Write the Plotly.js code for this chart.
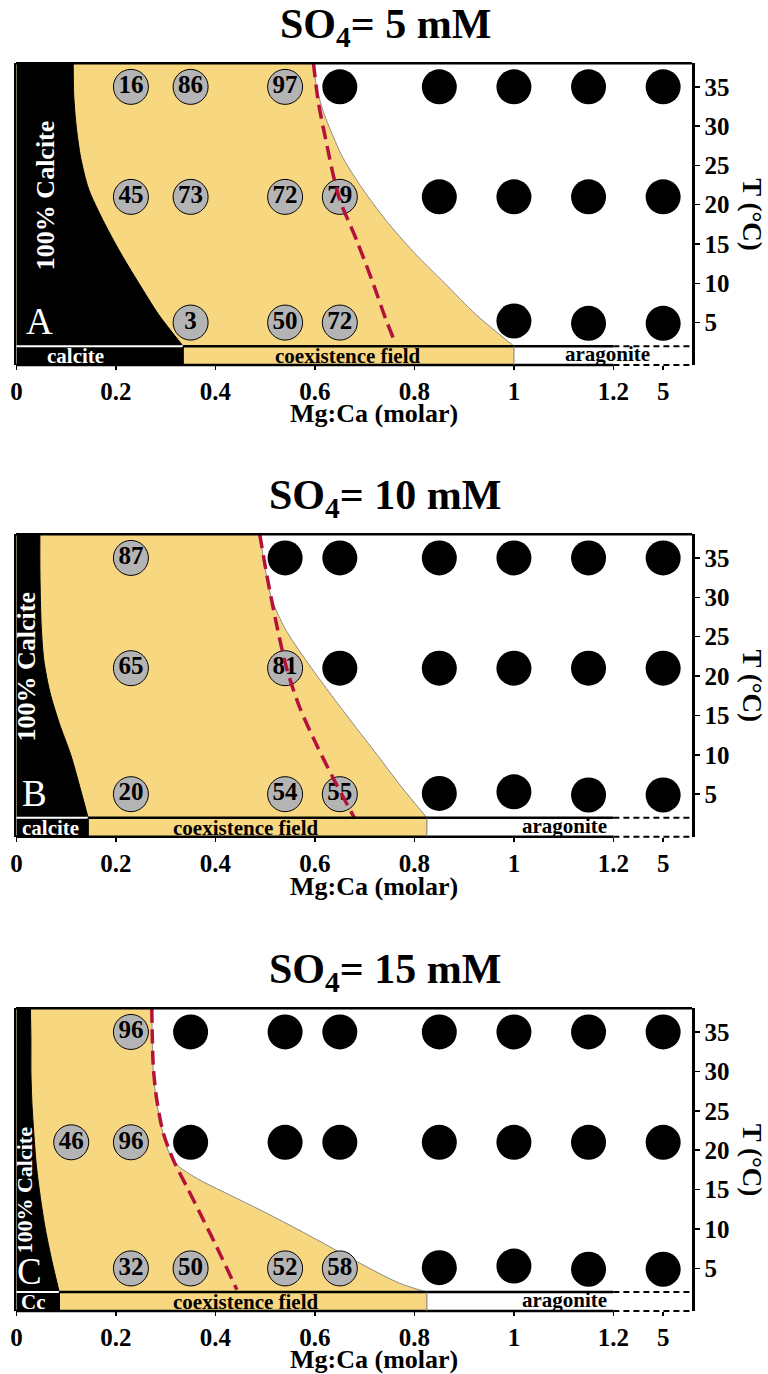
<!DOCTYPE html>
<html><head><meta charset="utf-8">
<script src="https://cdn.plot.ly/plotly-3.0.1.min.js"></script>
<style>html,body{margin:0;padding:0;background:#fff;}#chart{width:768px;height:1374px;}</style>
</head><body><div id="chart"></div>
<script>
// ---------------- DATA ----------------
const so4Values = ['5', '10', '15'];            // mM, panel titles
const panelLetters = ['A', 'B', 'C'];
const calciteBandLabels = ['calcite', 'calcite', 'Cc'];
const xTickVals = [0, 0.2, 0.4, 0.6, 0.8, 1, 1.2, 5];
const xTickText = ['0', '0.2', '0.4', '0.6', '0.8', '1', '1.2', '5'];
const yTickVals = [5, 10, 15, 20, 25, 30, 35];

// Panel A (SO4 = 5 mM): % aragonite in grey circles; black = 100% aragonite
const grayA_x = [0.23, 0.35, 0.54, 0.23, 0.35, 0.54, 0.65, 0.35, 0.54, 0.65];
const grayA_T = [35, 35, 35, 21, 21, 21, 21, 5, 5, 5];
const grayA_lab = [16, 86, 97, 45, 73, 72, 79, 3, 50, 72];
const blackA_x = [0.65, 0.85, 1.0, 1.15, 5, 0.85, 1.0, 1.15, 5, 1.0, 1.15, 5];
const blackA_T = [35, 35, 35, 35, 35, 21, 21, 21, 21, 5.2, 4.9, 4.9];

// Panel B (SO4 = 10 mM)
const grayB_x = [0.23, 0.23, 0.54, 0.23, 0.54, 0.65];
const grayB_T = [35, 21, 21, 5, 5, 5];
const grayB_lab = [87, 65, 81, 20, 54, 55];
const blackB_x = [0.54, 0.65, 0.85, 1.0, 1.15, 5, 0.65, 0.85, 1.0, 1.15, 5, 0.85, 1.0, 1.15, 5];
const blackB_T = [35, 35, 35, 35, 35, 35, 21, 21, 21, 21, 21, 5.1, 5.3, 4.9, 4.9];

// Panel C (SO4 = 15 mM)
const grayC_x = [0.23, 0.11, 0.23, 0.23, 0.35, 0.54, 0.65];
const grayC_T = [35, 21, 21, 5, 5, 5, 5];
const grayC_lab = [96, 46, 96, 32, 50, 52, 58];
const blackC_x = [0.35, 0.54, 0.65, 0.85, 1.0, 1.15, 5, 0.35, 0.54, 0.65, 0.85, 1.0, 1.15, 5, 0.85, 1.0, 1.15, 5];
const blackC_T = [35, 35, 35, 35, 35, 35, 35, 21, 21, 21, 21, 21, 21, 21, 5.1, 5.3, 4.9, 4.9];

// Field boundaries (Mg:Ca at temperature T)
const calciteT = [38, 34, 30, 26, 22, 18, 14, 10, 6, 2];
const calciteA = [0.114, 0.115, 0.120, 0.129, 0.145, 0.174, 0.208, 0.246, 0.286, 0.335];
const calciteB = [0.047, 0.047, 0.048, 0.050, 0.055, 0.067, 0.086, 0.109, 0.127, 0.144];
const calciteC = [0.028, 0.029, 0.029, 0.031, 0.035, 0.040, 0.048, 0.058, 0.071, 0.086];

const aragT_A = [38, 35, 32, 30, 26, 22, 18, 14, 10, 6, 2];
const aragA = [0.597, 0.603, 0.616, 0.628, 0.656, 0.696, 0.743, 0.798, 0.861, 0.924, 1.0];
const aragT_B = [38, 34, 30, 26, 22, 18, 14, 10, 6, 2];
const aragB = [0.489, 0.499, 0.512, 0.540, 0.582, 0.628, 0.676, 0.725, 0.773, 0.825];
const aragT_C = [38, 30, 26, 22, 19.2, 17.9, 16.2, 14.1, 12, 9.8, 7.5, 5.2, 3.1, 2];
const aragC = [0.272, 0.275, 0.282, 0.295, 0.310, 0.327, 0.369, 0.436, 0.503, 0.570, 0.637, 0.704, 0.771, 0.825];

// Red dashed boundary
const redA_T = [38, 33, 28.5, 21, 15.3, 9.8, 5.5, 2.8];
const redA_x = [0.597, 0.607, 0.621, 0.648, 0.685, 0.718, 0.742, 0.759];
const redB_T = [38, 32.9, 26.5, 21, 15.9, 11.3, 7, 1.9];
const redB_x = [0.489, 0.503, 0.523, 0.543, 0.570, 0.603, 0.637, 0.680];
const redC_T = [38, 30.6, 26.4, 22.2, 18.8, 15.4, 12, 7.8, 2.3];
const redC_x = [0.272, 0.275, 0.282, 0.295, 0.315, 0.342, 0.369, 0.402, 0.443];

const coexLabelX = [0.667, 0.461, 0.461];
const calciteLabelX = [0.119, 0.069, 0.035];
const bigCalciteLabel = [{x: 0.057, T: 21.2, size: 26}, {x: 0.021, T: 21.2, size: 26}, {x: 0.017, T: 15.0, size: 22}];
const letterPos = [{x: 0.047, T: 5.1}, {x: 0.037, T: 5.1}, {x: 0.026, T: 4.6}];

// ---------------- LAYOUT CONSTANTS ----------------
const W = 768, H = 1374;
const FONT = 'Liberation Serif, Times New Roman, serif';
const YELLOW = '#f7d77f';
const GREY = '#b4b4b4';
const RED = '#b3123c';
const BREAK_VALUE = 5, BREAK_POS = 1.3, AXIS_BREAK = 1.2;
const X_RANGE = [-0.001, 1.358];
const Y_RANGE = [-0.4, 38];
const BAND_TOP = 2;
const panelTop = [63.3, 534.3, 1008.3];
const panelBot = [365, 836.7, 1311];
const titleY = [27, 498, 972];
const xTitleY = [414, 886, 1359];

const mapX = v => (v === BREAK_VALUE ? BREAK_POS : v);
const px = v => v / W;
const py = v => 1 - v / H;

const panels = [
  {gx: grayA_x, gT: grayA_T, gl: grayA_lab, bx: blackA_x, bT: blackA_T, cx: calciteA, ax: aragA, aT: aragT_A, rx: redA_x, rT: redA_T},
  {gx: grayB_x, gT: grayB_T, gl: grayB_lab, bx: blackB_x, bT: blackB_T, cx: calciteB, ax: aragB, aT: aragT_B, rx: redB_x, rT: redB_T},
  {gx: grayC_x, gT: grayC_T, gl: grayC_lab, bx: blackC_x, bT: blackC_T, cx: calciteC, ax: aragC, aT: aragT_C, rx: redC_x, rT: redC_T}
];

const traces = [], shapes = [], annotations = [];
const layout = {
  width: W, height: H, autosize: false,
  margin: {l: 0, r: 0, t: 0, b: 0, pad: 0},
  paper_bgcolor: '#fff', plot_bgcolor: '#fff',
  showlegend: false, barmode: 'overlay',
  font: {family: FONT, color: '#000'}
};

panels.forEach((p, i) => {
  const s = i === 0 ? '' : String(i + 1);
  const xa = 'x' + s, ya = 'y' + s;
  const calEnd = p.cx[p.cx.length - 1];
  const aragEnd = p.ax[p.ax.length - 1];
  const common = {xaxis: xa, yaxis: ya, hoverinfo: 'skip'};

  // coexistence field (yellow) up to aragonite boundary
  traces.push(Object.assign({type: 'scatter', mode: 'lines', x: p.ax, y: p.aT, fill: 'tozerox', fillcolor: YELLOW,
    line: {color: '#8a8a8a', width: 1, shape: 'spline', smoothing: 0.8}}, common));
  // 100% calcite field (black)
  traces.push(Object.assign({type: 'scatter', mode: 'lines', x: p.cx, y: calciteT, fill: 'tozerox', fillcolor: '#000',
    line: {color: '#000', width: 1, shape: 'spline', smoothing: 0.8}}, common));
  // bottom band
  const bandMid = (BAND_TOP + Y_RANGE[0]) / 2, bandH = BAND_TOP - Y_RANGE[0];
  traces.push(Object.assign({type: 'bar', orientation: 'h', y: [bandMid], x: [calEnd], base: [0], width: [bandH],
    marker: {color: '#000', line: {width: 0}}}, common));
  traces.push(Object.assign({type: 'bar', orientation: 'h', y: [bandMid], x: [aragEnd - calEnd], base: [calEnd], width: [bandH],
    marker: {color: YELLOW, line: {width: 0}}}, common));
  // grey circles with % values
  traces.push(Object.assign({type: 'scatter', mode: 'markers+text', x: p.gx.map(mapX), y: p.gT, text: p.gl.map(String),
    textposition: 'middle center', textfont: {family: FONT, size: 25, color: '#000', weight: 'bold'},
    marker: {size: 35, color: GREY, line: {color: '#000', width: 1}}}, common));
  // black dots
  traces.push(Object.assign({type: 'scatter', mode: 'markers', x: p.bx.map(mapX), y: p.bT,
    marker: {size: 35, color: '#000', line: {width: 0}}}, common));
  // red dashed boundary
  traces.push(Object.assign({type: 'scatter', mode: 'lines', x: p.rx, y: p.rT,
    line: {color: RED, width: 3.5, dash: '14px,7px', shape: 'spline', smoothing: 0.8}}, common));

  const dom = [py(panelBot[i]), py(panelTop[i])];
  layout['xaxis' + s] = {
    domain: [px(16), px(692)], range: X_RANGE, anchor: ya,
    tickvals: xTickVals.map(mapX), ticktext: xTickText,
    ticks: 'outside', ticklen: 4, tickwidth: 1.5, tickcolor: '#000',
    showline: false, showgrid: false, zeroline: false, fixedrange: true,
    tickfont: {family: FONT, size: 25, color: '#000', weight: 'bold'}
  };
  layout['yaxis' + s] = {
    domain: dom, range: Y_RANGE, anchor: xa, side: 'right',
    tickvals: yTickVals, ticks: 'outside', ticklen: 5, tickwidth: 1.5, tickcolor: '#000',
    showline: true, mirror: true, linewidth: 2.5, linecolor: '#000',
    showgrid: false, zeroline: false, fixedrange: true,
    tickfont: {family: FONT, size: 25, color: '#000', weight: 'bold'}
  };

  // frame and band lines
  const L = (o) => shapes.push(Object.assign({type: 'line', layer: 'above'}, o));
  L({xref: xa + ' domain', yref: ya + ' domain', x0: 0, x1: 1, y0: 1, y1: 1, line: {color: '#000', width: 2.5}});
  L({xref: xa, yref: ya + ' domain', x0: X_RANGE[0], x1: AXIS_BREAK, y0: 0, y1: 0, line: {color: '#000', width: 2.5}});
  L({xref: xa, yref: ya + ' domain', x0: AXIS_BREAK, x1: X_RANGE[1], y0: 0, y1: 0, line: {color: '#000', width: 2, dash: '6px,4px'}});
  L({xref: xa, yref: ya, x0: 0, x1: calEnd, y0: BAND_TOP, y1: BAND_TOP, line: {color: '#fff', width: 2}});
  L({xref: xa, yref: ya, x0: calEnd, x1: AXIS_BREAK, y0: BAND_TOP, y1: BAND_TOP, line: {color: '#000', width: 2.5}});
  L({xref: xa, yref: ya, x0: AXIS_BREAK, x1: X_RANGE[1], y0: BAND_TOP, y1: BAND_TOP, line: {color: '#000', width: 2, dash: '6px,4px'}});
  L({xref: xa, yref: ya, x0: calEnd, x1: calEnd, y0: Y_RANGE[0], y1: BAND_TOP, line: {color: '#000', width: 1.5}});
  L({xref: xa, yref: ya, x0: aragEnd, x1: aragEnd, y0: Y_RANGE[0], y1: BAND_TOP, line: {color: '#777', width: 1}});

  const A = (o) => annotations.push(Object.assign({showarrow: false}, o));
  // titles
  A({xref: 'paper', yref: 'paper', x: px(385), y: py(titleY[i]), xanchor: 'center', yanchor: 'middle',
     text: 'SO<sub>4</sub>= ' + so4Values[i] + ' mM', font: {family: FONT, size: 42, color: '#000', weight: 'bold'}});
  A({xref: 'paper', yref: 'paper', x: px(374), y: py(xTitleY[i]), xanchor: 'center', yanchor: 'middle',
     text: 'Mg:Ca (molar)', font: {family: FONT, size: 26, color: '#000', weight: 'bold'}});
  A({xref: 'paper', yref: 'paper', x: px(752), y: py((panelTop[i] + panelBot[i]) / 2), xanchor: 'center', yanchor: 'middle',
     text: 'T (°C)', textangle: 90, font: {family: FONT, size: 27, color: '#000', weight: 'bold'}});
  // in-plot labels
  A({xref: xa, yref: ya, x: bigCalciteLabel[i].x, y: bigCalciteLabel[i].T, textangle: -90,
     text: '100% Calcite', font: {family: FONT, size: bigCalciteLabel[i].size, color: '#fff', weight: 'bold'}});
  A({xref: xa, yref: ya, x: letterPos[i].x, y: letterPos[i].T,
     text: panelLetters[i], font: {family: FONT, size: 37, color: '#fff'}});
  A({xref: xa, yref: ya, x: calciteLabelX[i], y: 0.75, text: calciteBandLabels[i],
     font: {family: FONT, size: 21, color: '#fff', weight: 'bold'}});
  A({xref: xa, yref: ya, x: coexLabelX[i], y: 0.75, text: 'coexistence field',
     font: {family: FONT, size: 21, color: '#000', weight: 'bold'}});
  A({xref: xa, yref: ya, x: (aragEnd + X_RANGE[1]) / 2 + 0.01, y: 1.0, text: 'aragonite',
     font: {family: FONT, size: 21, color: '#000', weight: 'bold'}});
});

layout.shapes = shapes;
layout.annotations = annotations;
Plotly.newPlot('chart', traces, layout, {staticPlot: true, displayModeBar: false});
</script></body></html>
